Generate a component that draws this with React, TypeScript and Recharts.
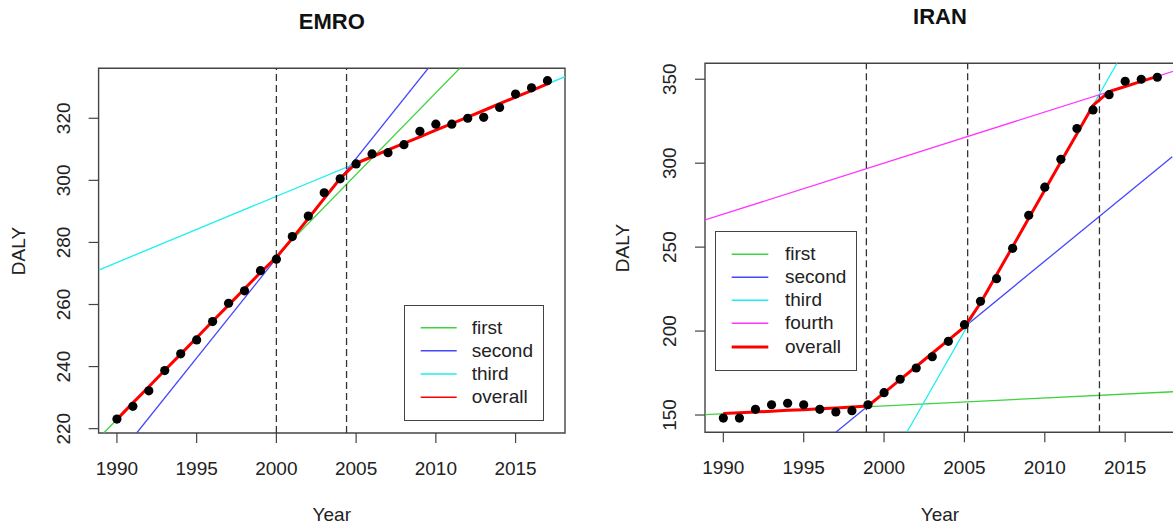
import React from 'react';
import { ComposedChart, Line, Scatter, XAxis, YAxis, ReferenceLine, ReferenceArea } from 'recharts';

const years = [
  1990, 1991, 1992, 1993, 1994, 1995, 1996, 1997, 1998, 1999,
  2000, 2001, 2002, 2003, 2004, 2005, 2006, 2007, 2008, 2009,
  2010, 2011, 2012, 2013, 2014, 2015, 2016, 2017,
];
const yearTicks = [1990, 1995, 2000, 2005, 2010, 2015];

// EMRO
const emroObserved = [
  223.1, 227.2, 232.2, 238.7, 244.1, 248.6, 254.5, 260.4, 264.4, 270.9,
  274.6, 281.9, 288.5, 296.0, 300.5, 305.3, 308.5, 308.9, 311.5, 315.8,
  318.1, 318.1, 320.0, 320.3, 323.5, 327.8, 329.8, 332.1,
];
const emroFitted = [
  223.0, 228.3, 233.5, 238.8, 244.0, 249.3, 254.6, 259.8, 265.1, 270.3,
  275.2, 281.3, 287.7, 294.2, 300.6, 305.5, 307.6, 309.8, 311.9, 314.0,
  316.2, 318.3, 320.4, 322.5, 324.7, 326.8, 328.9, 331.1,
];
const emroFirst = [{ year: 1989.17, daly: 218.6 }, { year: 2011.5, daly: 336.1 }];
const emroSecond = [{ year: 1991.24, daly: 218.6 }, { year: 2009.52, daly: 336.1 }];
const emroThird = [{ year: 1988.85, daly: 271.1 }, { year: 2018.1, daly: 333.4 }];
const emroBreaks = [2000.0, 2004.4];
const emroYTicks = [220, 240, 260, 280, 300, 320];

// IRAN
const iranObserved = [
  148.2, 148.2, 153.4, 156.1, 157.0, 156.1, 153.4, 151.8, 152.6, 156.1,
  163.3, 171.3, 178.0, 184.7, 193.9, 203.8, 217.7, 231.2, 249.3, 269.0,
  285.7, 302.3, 320.6, 331.7, 340.8, 348.8, 350.0, 351.2,
];
const iranFitted = [
  150.9, 151.4, 151.8, 152.3, 152.8, 153.2, 153.7, 154.2, 154.7, 155.4,
  163.2, 171.1, 178.9, 186.8, 194.6, 202.5, 216.7, 233.5, 250.3, 267.2,
  284.0, 300.8, 317.6, 334.4, 342.6, 345.7, 348.7, 351.7,
];
const iranFirst = [{ year: 1988.86, daly: 150.2 }, { year: 2018.1, daly: 163.9 }];
const iranSecond = [{ year: 1997.0, daly: 139.7 }, { year: 2017.93, daly: 303.9 }];
const iranThird = [{ year: 2001.42, daly: 139.7 }, { year: 2014.49, daly: 359.5 }];
const iranFourth = [{ year: 1988.86, daly: 266.2 }, { year: 2018.1, daly: 355.1 }];
const iranBreaks = [1998.9, 2005.2, 2013.4];
const iranYTicks = [150, 200, 250, 300, 350];

const FONT = '"Liberation Sans", Arial, Helvetica, sans-serif';
const INK = '#222';
const FRAME = '#444';
const COLORS = {
  first: '#3fd33f',
  second: '#4646ff',
  third: '#1cf0f0',
  fourth: '#ff36ff',
  overall: '#ff0000',
};

type Pt = { year: number; daly: number };
const toRows = (vals: number[]): Pt[] => years.map((year, i) => ({ year, daly: vals[i] }));

type Guide = { name: string; color: string; points: Pt[] };

interface PanelProps {
  title: string;
  left: number;
  width: number;
  plot: { left: number; right: number; top: number; bottom: number };
  xDomain: [number, number];
  yDomain: [number, number];
  yTicks: number[];
  observed: number[];
  fitted: number[];
  guides: Guide[];
  breaks: number[];
  titleY: number;
  dalyX: number;
  legend: {
    x: number; y: number; w: number; h: number;
    rows: number[]; lineX1: number; lineX2: number; textX: number; overallWidth: number;
  };
}

const XTick = (p: any) => (
  <text x={p.x} y={p.y + 25} textAnchor="middle" dominantBaseline="central"
    fill={INK} fontSize={19} fontFamily={FONT}>
    {p.payload.value}
  </text>
);

const YTick = (p: any) => {
  const x = p.x - 25;
  return (
    <text x={x} y={p.y} transform={`rotate(-90 ${x} ${p.y})`} textAnchor="middle"
      dominantBaseline="central" fill={INK} fontSize={19} fontFamily={FONT}>
      {p.payload.value}
    </text>
  );
};

const Dot = (p: any) => <circle cx={p.cx} cy={p.cy} r={4.6} fill="#000" />;

const textBox = (cx: number, cy: number, w: number): React.CSSProperties => ({
  position: 'absolute',
  left: cx - w / 2,
  top: cy - 15,
  width: w,
  height: 30,
  lineHeight: '30px',
  textAlign: 'center',
  fontFamily: FONT,
  color: INK,
  whiteSpace: 'nowrap',
});

const Panel = (props: PanelProps) => {
  const { plot, legend } = props;
  const height = 528;
  const cx = (plot.left + plot.right) / 2;
  const cy = (plot.top + plot.bottom) / 2;
  const entries = [...props.guides.map((g) => ({ name: g.name, color: g.color, w: 1.4 })),
    { name: 'overall', color: COLORS.overall, w: legend.overallWidth }];

  return (
    <div style={{ position: 'absolute', left: props.left, top: 0, width: props.width, height }}>
      <ComposedChart
        width={props.width}
        height={height}
        margin={{ top: plot.top, right: props.width - plot.right, bottom: height - plot.bottom - 30, left: plot.left - 60 }}
      >
        <XAxis type="number" dataKey="year" domain={props.xDomain} ticks={yearTicks}
          allowDataOverflow axisLine={false} tickSize={10} tickMargin={0} height={30}
          tickLine={{ stroke: FRAME, strokeWidth: 1.2 }} tick={XTick} interval={0} />
        <YAxis type="number" dataKey="daly" domain={props.yDomain} ticks={props.yTicks}
          allowDataOverflow axisLine={false} tickSize={10} tickMargin={0} width={60}
          tickLine={{ stroke: FRAME, strokeWidth: 1.2 }} tick={YTick} interval={0} />
        {props.guides.map((g) => (
          <Line key={g.name} data={g.points} dataKey="daly" type="linear" stroke={g.color}
            strokeWidth={1.3} dot={false} activeDot={false} isAnimationActive={false} />
        ))}
        {props.breaks.map((b) => (
          <ReferenceLine key={b} x={b} stroke="#333" strokeWidth={1.3} strokeDasharray="7 4" />
        ))}
        <Line data={toRows(props.fitted)} dataKey="daly" type="linear" stroke={COLORS.overall}
          strokeWidth={3} dot={false} activeDot={false} isAnimationActive={false} />
        <Scatter data={toRows(props.observed)} dataKey="daly" shape={Dot} isAnimationActive={false} />
        <ReferenceArea x1={props.xDomain[0]} x2={props.xDomain[1]} y1={props.yDomain[0]} y2={props.yDomain[1]}
          ifOverflow="visible" fill="none" fillOpacity={0} stroke={FRAME} strokeWidth={1.4} />
      </ComposedChart>

      <div style={{ ...textBox(cx, props.titleY, 200), fontSize: 22, fontWeight: 'bold', color: '#111' }}>
        {props.title}
      </div>
      <div style={{ ...textBox(cx, 514.5, 100), fontSize: 19 }}>Year</div>
      <div style={{ ...textBox(props.dalyX, cy, 100), fontSize: 19, transform: 'rotate(-90deg)' }}>DALY</div>

      <div style={{
        position: 'absolute', left: legend.x, top: legend.y, width: legend.w, height: legend.h,
        boxSizing: 'border-box', border: `1.4px solid ${FRAME}`, background: '#fff',
      }}>
        <svg width={legend.w} height={legend.h} style={{ position: 'absolute', left: -1.4, top: -1.4 }}>
          {entries.map((e, i) => (
            <line key={e.name} x1={legend.lineX1 - legend.x} x2={legend.lineX2 - legend.x}
              y1={legend.rows[i] - legend.y} y2={legend.rows[i] - legend.y}
              stroke={e.color} strokeWidth={e.w} />
          ))}
        </svg>
      </div>
      {entries.map((e, i) => (
        <div key={e.name} style={{
          position: 'absolute', left: legend.textX, top: legend.rows[i] - 12, height: 24,
          lineHeight: '24px', fontSize: 19, fontFamily: FONT, color: INK,
        }}>
          {e.name}
        </div>
      ))}
    </div>
  );
};

export default function App() {
  return (
    <div style={{ position: 'absolute', left: 0, top: 0, width: 1173, height: 528, overflow: 'hidden', background: '#fff' }}>
      <Panel
        title="EMRO"
        left={0}
        width={586}
        plot={{ left: 98.6, right: 565, top: 68.3, bottom: 433 }}
        xDomain={[1988.85, 2018.1]}
        yDomain={[218.6, 336.1]}
        yTicks={emroYTicks}
        observed={emroObserved}
        fitted={emroFitted}
        guides={[
          { name: 'first', color: COLORS.first, points: emroFirst },
          { name: 'second', color: COLORS.second, points: emroSecond },
          { name: 'third', color: COLORS.third, points: emroThird },
        ]}
        breaks={emroBreaks}
        titleY={22}
        dalyX={19}
        legend={{
          x: 404, y: 305, w: 140, h: 116,
          rows: [327.7, 350.7, 374, 397.3], lineX1: 420.7, lineX2: 456.7, textX: 471.7, overallWidth: 1.4,
        }}
      />
      <Panel
        title="IRAN"
        left={586}
        width={600}
        plot={{ left: 119, right: 589, top: 63.3, bottom: 432.3 }}
        xDomain={[1988.86, 2018.1]}
        yDomain={[139.7, 359.5]}
        yTicks={iranYTicks}
        observed={iranObserved}
        fitted={iranFitted}
        guides={[
          { name: 'first', color: COLORS.first, points: iranFirst },
          { name: 'second', color: COLORS.second, points: iranSecond },
          { name: 'third', color: COLORS.third, points: iranThird },
          { name: 'fourth', color: COLORS.fourth, points: iranFourth },
        ]}
        breaks={iranBreaks}
        titleY={17}
        dalyX={37.4}
        legend={{
          x: 129, y: 231, w: 142, h: 140,
          rows: [254.3, 277.3, 300.3, 323.3, 347], lineX1: 145.7, lineX2: 182.3, textX: 199, overallWidth: 3,
        }}
      />
    </div>
  );
}
